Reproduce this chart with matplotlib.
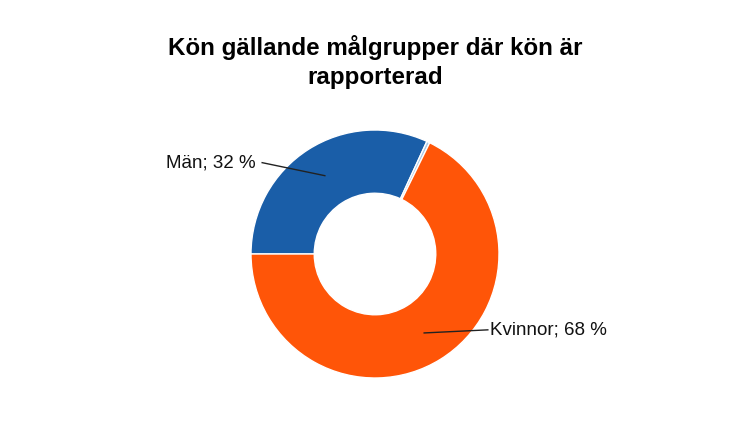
import numpy as np
import matplotlib.pyplot as plt

# data
labels = ['Män', '', 'Kvinnor']
values = [32, 0.4, 68]
shown = ['Män; 32 %', None, 'Kvinnor; 68 %']
colors = ['#1a5ea8', '#a9c8e8', '#ff5508']

plt.rcParams['font.family'] = ['Liberation Sans', 'DejaVu Sans']

fig = plt.figure(figsize=(7.5, 4.36), dpi=100)
cx, cy, r = 375, 254, 124
ax = fig.add_axes([(cx - r) / 750, (436 - cy - r) / 436, 2 * r / 750, 2 * r / 436])
wedges, _ = ax.pie(values, colors=colors, startangle=180, counterclock=False,
                   radius=1, wedgeprops=dict(width=0.51, edgecolor='white', linewidth=1))
ax.set_xlim(-1, 1)
ax.set_ylim(-1, 1)
ax.set_aspect('equal')
ax.axis('off')

for w, txt in zip(wedges, shown):
    if txt is None:
        continue
    mid = np.deg2rad((w.theta1 + w.theta2) / 2)
    x0, y0 = 0.75 * np.cos(mid), 0.75 * np.sin(mid)
    if x0 < 0:
        x1, y1 = -0.91, y0 + 0.105
        ax.plot([x0, x1], [y0, y1], color='#222222', lw=1, clip_on=False)
        ax.text(x1 - 0.05, y1, txt, ha='right', va='center', fontsize=13.5, color='#111111')
    else:
        x1, y1 = 0.91, y0 + 0.025
        ax.plot([x0, x1], [y0, y1], color='#222222', lw=1, clip_on=False)
        ax.text(x1 + 0.02, y1, txt, ha='left', va='center', fontsize=13.5, color='#111111')

fig.text(0.5, 1 - 62 / 436, 'Kön gällande målgrupper där kön är\nrapporterad', ha='center',
         va='center', fontsize=17.4, fontweight='bold', linespacing=1.28)

fig.savefig('out.png', dpi=100)
